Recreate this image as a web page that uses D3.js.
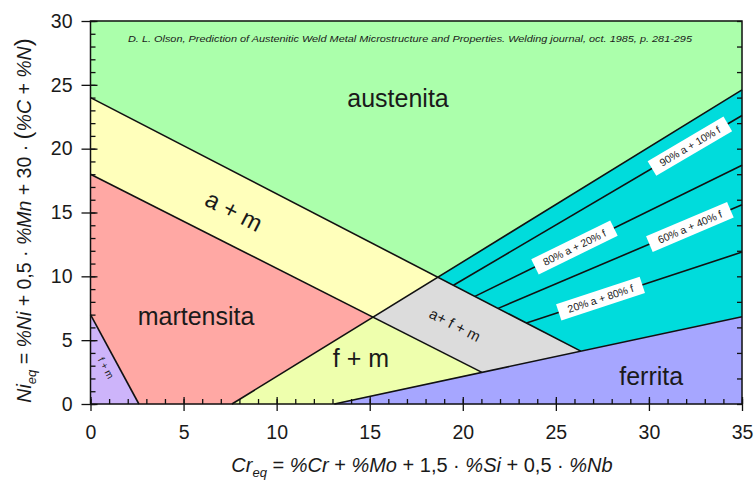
<!DOCTYPE html>
<html>
<head>
<meta charset="utf-8">
<script src="https://cdn.jsdelivr.net/npm/d3@7"></script>
<style>
    body { margin: 0; background: #fff; }
    text { font-family: 'Liberation Sans', Arial, sans-serif; fill: #1a1a1a; }
</style>
</head>
<body>
<svg id="chart" width="756" height="482"></svg>
<script>
// --- phase regions, vertices in (Cr_eq, Ni_eq)
const austenite = [[0, 30], [35, 30], [35, 24.6], [18.66, 9.93], [0, 24]];
const aPlusM = [[0, 24], [18.66, 9.93], [15.17, 6.8], [0, 18]];
const martensite = [[0, 18], [15.17, 6.8], [7.6, 0], [2.6, 0], [0, 7]];
const fmSmall = [[0, 7], [2.6, 0], [0, 0]];
const fPlusM = [[7.6, 0], [15.17, 6.8], [21.03, 2.48], [13.1, 0]];
const afm = [[15.17, 6.8], [18.66, 9.93], [26.34, 4.14], [21.03, 2.48]];
const aPlusF = [[18.66, 9.93], [35, 24.6], [35, 6.84], [26.34, 4.14]];
const ferrite = [[13.1, 0], [35, 6.84], [35, 0]];

const regions = [austenite, aPlusM, martensite, fmSmall, fPlusM, afm, aPlusF, ferrite];
const regionColors = ['#abffab', '#ffffbb', '#ffa8a4', '#cdb4fa', '#eeffad', '#dcdcdc', '#00dcdc', '#a6a6ff'];

// --- boundary lines
const boundaries = [
    [[0, 24], [26.34, 4.14]],
    [[0, 18], [21.03, 2.48]],
    [[7.6, 0], [35, 24.6]],
    [[13.1, 0], [35, 6.84]],
    [[0, 7], [2.6, 0]]
];

// --- iso-ferrite lines inside a + f
const isoLines = [
    [[19.5, 9.3], [35, 22.6]],
    [[20.65, 8.43], [35, 18.7]],
    [[21.9, 7.49], [35, 15.6]],
    [[23.42, 6.34], [35, 11.9]]
];
const isoLabels = ['90% a + 10% f', '80% a + 20% f', '60% a + 40% f', '20% a + 80% f'];
const isoLabelX = [32.2, 26.0, 32.2, 27.4];

const xTicks = [0, 5, 10, 15, 20, 25, 30, 35];
const yTicks = [0, 5, 10, 15, 20, 25, 30];

const CITATION = 'D. L. Olson, Prediction of Austenitic Weld Metal Microstructure and Properties. Welding journal, oct. 1985, p. 281-295';

const margin = {top: 21, right: 14, bottom: 78, left: 90.5};
const width = 756, height = 482;

const svg = d3.select('#chart');
const x = d3.scaleLinear().domain([0, 35]).range([margin.left, width - margin.right]);
const y = d3.scaleLinear().domain([0, 30]).range([height - margin.bottom, margin.top]);

const line = d3.line().x(d => x(d[0])).y(d => y(d[1]));

function angleOf(seg) {
    return Math.atan2(y(seg[1][1]) - y(seg[0][1]), x(seg[1][0]) - x(seg[0][0])) * 180 / Math.PI;
}

// --- regions
svg.append('g')
    .selectAll('path')
    .data(regions)
    .enter()
    .append('path')
    .attr('d', d => line(d) + 'Z')
    .attr('fill', (d, i) => regionColors[i])
    .attr('stroke', (d, i) => regionColors[i])
    .attr('stroke-width', 0.5);

// --- lines
svg.append('g')
    .selectAll('path')
    .data(boundaries.concat(isoLines))
    .enter()
    .append('path')
    .attr('d', line)
    .attr('fill', 'none')
    .attr('stroke', '#111')
    .attr('stroke-width', 1.6);

// --- iso labels (white boxes on the lines)
const isoGroup = svg.append('g');
isoLines.forEach((seg, i) => {
    const t = (isoLabelX[i] - seg[0][0]) / (seg[1][0] - seg[0][0]);
    const yv = seg[0][1] + t * (seg[1][1] - seg[0][1]);
    const g = isoGroup.append('g')
        .attr('transform', `translate(${x(isoLabelX[i])},${y(yv)}) rotate(${angleOf(seg)})`);
    g.append('rect')
        .attr('x', -44).attr('y', -8.5)
        .attr('width', 88).attr('height', 17)
        .attr('fill', '#fff');
    g.append('text')
        .attr('text-anchor', 'middle')
        .attr('dy', '0.35em')
        .attr('font-size', 10.5)
        .text(isoLabels[i]);
});

// --- big region labels
const plainLabels = [
    {text: 'austenita', x: 16.52, y: 23.28},
    {text: 'martensita', x: 5.67, y: 6.19},
    {text: 'f + m', x: 14.53, y: 2.92},
    {text: 'ferrita', x: 30.12, y: 1.49}
];
svg.append('g')
    .selectAll('text')
    .data(plainLabels)
    .enter()
    .append('text')
    .attr('x', d => x(d.x))
    .attr('y', d => y(d.y))
    .attr('text-anchor', 'middle')
    .attr('font-size', 25)
    .text(d => d.text);

const rotLabels = [
    {text: 'a + m', x: 7.71, y: 15.11, size: 24, seg: boundaries[0]},
    {text: 'a+ f + m', x: 19.58, y: 6.19, size: 15, seg: boundaries[0]},
    {text: 'f + m', x: 0.83, y: 2.82, size: 10, seg: boundaries[4]}
];
svg.append('g')
    .selectAll('text')
    .data(rotLabels)
    .enter()
    .append('text')
    .attr('transform', d => `translate(${x(d.x)},${y(d.y)}) rotate(${angleOf(d.seg)})`)
    .attr('text-anchor', 'middle')
    .attr('dy', '0.35em')
    .attr('font-size', d => d.size)
    .text(d => d.text);

// --- citation
svg.append('text')
    .attr('x', 410)
    .attr('y', 42)
    .attr('text-anchor', 'middle')
    .attr('font-size', 9.6)
    .attr('font-style', 'italic')
    .attr('textLength', 564)
    .attr('lengthAdjust', 'spacingAndGlyphs')
    .text(CITATION);

// --- frame
svg.append('rect')
    .attr('x', x(0)).attr('y', y(30))
    .attr('width', x(35) - x(0)).attr('height', y(0) - y(30))
    .attr('fill', 'none')
    .attr('stroke', '#111')
    .attr('stroke-width', 1.5);

// --- axes
const bottom = y(0), left = x(0), right = x(35);

function styleAxis(g) {
    g.select('.domain').remove();
    g.selectAll('line').attr('stroke', '#111').attr('stroke-width', 1.3);
    g.selectAll('text').attr('font-size', 19.5).attr('fill', '#1a1a1a');
}

// x minor ticks (inward)
svg.append('g')
    .attr('transform', `translate(0,${bottom})`)
    .call(d3.axisBottom(x).tickValues(d3.range(0, 36, 1)).tickSize(-5).tickFormat(''))
    .call(styleAxis);
// x major ticks crossing
svg.append('g')
    .attr('transform', `translate(0,${bottom})`)
    .call(d3.axisBottom(x).tickValues(xTicks).tickSize(-7).tickFormat(''))
    .call(styleAxis);
svg.append('g')
    .attr('transform', `translate(0,${bottom})`)
    .call(d3.axisBottom(x).tickValues(xTicks).tickSize(7).tickPadding(14).tickFormat(d3.format('d')))
    .call(styleAxis);

// y minor ticks (inward)
svg.append('g')
    .attr('transform', `translate(${left},0)`)
    .call(d3.axisLeft(y).tickValues(d3.range(0, 31, 1)).tickSize(-5).tickFormat(''))
    .call(styleAxis);
svg.append('g')
    .attr('transform', `translate(${left},0)`)
    .call(d3.axisLeft(y).tickValues(yTicks).tickSize(-7).tickFormat(''))
    .call(styleAxis);
svg.append('g')
    .attr('transform', `translate(${left},0)`)
    .call(d3.axisLeft(y).tickValues(yTicks).tickSize(9).tickPadding(9).tickFormat(d3.format('d')))
    .call(styleAxis);

// right edge ticks (inward)
svg.append('g')
    .attr('transform', `translate(${right},0)`)
    .call(d3.axisRight(y).tickValues(d3.range(0, 31, 2)).tickSize(-5).tickFormat(''))
    .call(styleAxis);

// --- axis titles
const xTitle = svg.append('text')
    .attr('x', 422)
    .attr('y', 472)
    .attr('text-anchor', 'middle')
    .attr('font-size', 20);
[['Cr', true], ['eq', true, 'sub'], [' = ', false], ['%Cr', true], [' + ', false], ['%Mo', true],
 [' + 1,5 · ', false], ['%Si', true], [' + 0,5 · ', false], ['%Nb', true]].forEach(p => {
    const ts = xTitle.append('tspan').text(p[0]).attr('font-style', p[1] ? 'italic' : 'normal');
    if (p[2] === 'sub') ts.attr('font-size', 13).attr('dy', 5);
    else if (p[0] === ' = ') ts.attr('dy', -5);
});

const yTitle = svg.append('text')
    .attr('transform', `translate(31,${(bottom + y(30)) / 2 + 8}) rotate(-90)`)
    .attr('text-anchor', 'middle')
    .attr('font-size', 19.5);
[['Ni', true], ['eq', true, 'sub'], [' = ', false], ['%Ni', true], [' + 0,5 · ', false], ['%Mn', true],
 [' + 30 · ', false], ['(', false, 'big'], ['%C', true], [' + ', false], ['%N', true], [')', false, 'big']].forEach(p => {
    const ts = yTitle.append('tspan').text(p[0]).attr('font-style', p[1] ? 'italic' : 'normal');
    if (p[2] === 'sub') ts.attr('font-size', 13).attr('dy', 5);
    else if (p[0] === ' = ') ts.attr('dy', -5);
    else if (p[2] === 'big') ts.attr('font-size', 24);
});
</script>
</body>
</html>
